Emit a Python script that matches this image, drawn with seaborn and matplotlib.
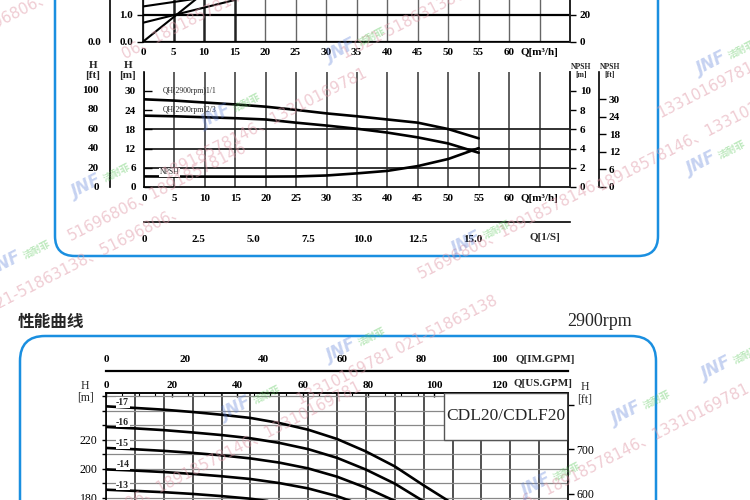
import numpy as np
import pandas as pd
import matplotlib
matplotlib.use('Agg')
import matplotlib.pyplot as plt
import seaborn as sns
from matplotlib.patches import FancyBboxPatch, Rectangle

# ---------- dados ----------
# painel superior (parcial): três retas até Q = 15 m³/h
q_topo = [0, 15]
topo_a = [1.32, 1.82]
topo_b = [0.71, 1.56]
topo_c = [0.0, 2.75]

# painel do meio: curvas QH (H em m) e NPSH (m) vs Q (m³/h)
q_qh = [0, 5, 10, 15, 20, 25, 30, 35, 40, 45, 50, 55]
qh_11 = [27.4, 27.0, 26.4, 25.8, 25.1, 24.1, 23.0, 22.1, 21.1, 20.1, 18.1, 15.2]
qh_23 = [22.3, 22.1, 21.8, 21.5, 21.1, 20.1, 19.2, 18.2, 17.0, 15.5, 13.6, 10.7]
q_npsh = [0, 10, 20, 25, 30, 35, 40, 45, 50, 55]
npsh = [1.1, 1.08, 1.08, 1.1, 1.2, 1.42, 1.68, 2.18, 2.92, 4.05]

# painel inferior: CDL20/CDLF20, H (m) por número de estágios
q_cdl = [0, 2, 4, 6, 8, 10, 12, 14, 16, 18, 20, 22, 24]
h_17 = [243.0, 241.9, 240.7, 239.1, 237.2, 235.0, 231.5, 226.9, 220.5, 211.9, 201.6, 188.5, 176.0]
h_16 = [228.8, 227.8, 226.6, 225.0, 223.2, 221.0, 217.8, 213.5, 207.5, 199.4, 189.7, 177.5]
h_15 = [214.3, 213.4, 212.3, 210.9, 209.2, 207.1, 204.2, 200.2, 194.5, 186.9, 177.8]
h_14 = [199.5, 198.7, 197.7, 196.4, 194.8, 192.9, 190.1, 186.4, 181.1, 174.0]
h_13 = [185.5, 184.7, 183.8, 182.6, 181.1, 179.3, 176.7, 173.2]
estagios = ['-17', '-16', '-15', '-14', '-13']
rotulo_h = [245.7, 232.2, 217.2, 202.8, 188.5]

# marcas d'água (posição em pixels da imagem)
marca_txt = [(-30, 40, '51696806、18918578146'),
             (125, 58, '06、18918578146、13310169781'),
             (345, 58, '1 021-51863138、51696806'),
             (165, 178, '18918578146、13310169781'),
             (70, 240, '51696806、18918578146'),
             (-10, 312, '021-51863138、51696806、'),
             (420, 278, '51696806、18918578146、'),
             (600, 190, '18918578146、13310169781'),
             (660, 118, '13310169781'),
             (300, 405, '13310169781 021-51863138'),
             (120, 512, '806、18918578146、13310169781'),
             (525, 505, '6、18918578146、13310169781')]
marca_logo = [(330, 62), (205, 128), (75, 198), (-5, 275), (455, 255), (700, 75),
              (690, 175), (225, 420), (330, 362), (615, 425), (525, 497), (705, 380)]

AZUL = '#1a8fe0'
SERIF = ['Liberation Serif', 'DejaVu Serif']

sns.set_theme(style='white')
plt.rcParams['font.family'] = ['Liberation Serif', 'Noto Sans CJK SC', 'DejaVu Sans']
plt.rcParams['axes.linewidth'] = 1.2
plt.rcParams['xtick.color'] = 'black'
plt.rcParams['ytick.color'] = 'black'

W, H = 750, 500
fig = plt.figure(figsize=(7.5, 5), dpi=100)
fig.patch.set_facecolor('white')


def eixo(x0, y0, x1, y1):
    # posição em pixels da imagem (y cresce para baixo)
    ax = fig.add_axes([x0 / W, 1 - y1 / H, (x1 - x0) / W, (y1 - y0) / H])
    ax.set_facecolor('none')
    for s in ax.spines.values():
        s.set_color('black')
    return ax


def so_espinha(ax, lado):
    for k, s in ax.spines.items():
        s.set_visible(k == lado)


tk = dict(labelsize=8, width=1.0, colors='black')

# ---------- painel superior (cortado) ----------
ax_t = eixo(143, -40, 570, 41.7)
ax_t.set_xlim(0, 70)
ax_t.set_ylim(0, (41.7 + 40) / 26.7)
ax_t.spines['top'].set_visible(False)
xt = list(range(0, 70, 5))
ax_t.set_xticks(xt)
ax_t.set_xticklabels([str(v) for v in xt[:-1]] + ['Q[m³/h]'], fontweight='bold')
ax_t.set_yticks([0, 1])
ax_t.set_yticklabels(['0.0', '1.0'], fontweight='bold')
ax_t.tick_params(axis='x', length=0, pad=4.5, **tk)
ax_t.tick_params(axis='y', length=4, pad=3, **tk)
ax_t.grid(True, axis='x', color='#666', lw=1.0)
ax_t.grid(True, axis='y', color='black', lw=1.6)
for v, gl in zip(xt, ax_t.get_xgridlines()):
    if v in (5, 10, 15):
        gl.set_color('#222')
        gl.set_linewidth(1.8)
df_topo = pd.DataFrame({'Q': q_topo * 3, 'v': topo_a + topo_b + topo_c,
                        'curva': ['a'] * 2 + ['b'] * 2 + ['c'] * 2})
sns.lineplot(data=df_topo, x='Q', y='v', units='curva', estimator=None, color='black',
             lw=1.5, ax=ax_t, legend=False)
ax_t.set_xlabel('')
ax_t.set_ylabel('')
ax_t2 = ax_t.twinx()
ax_t2.set_ylim(0, ax_t.get_ylim()[1] * 20)
ax_t2.set_yticks([0, 20])
ax_t2.set_yticklabels(['0', '20'], fontweight='bold')
ax_t2.tick_params(axis='y', length=4, pad=3, **tk)
so_espinha(ax_t2, 'right')
ax_to = eixo(110, -40, 111, 41.7)
so_espinha(ax_to, 'left')
ax_to.set_ylim(ax_t.get_ylim())
ax_to.set_xticks([])
ax_to.set_yticks([0])
ax_to.set_yticklabels(['0.0'], fontweight='bold')
ax_to.tick_params(axis='y', length=3, pad=3, **tk)

# ---------- painel do meio ----------
ax_m = eixo(144, 72, 570, 187)
ax_m.set_xlim(0, 70)
ax_m.set_ylim(0, (187 - 72) / 3.2)
ax_m.spines['top'].set_visible(False)
ax_m.set_xticks(xt)
ax_m.set_xticklabels([str(v) for v in xt[:-1]] + ['Q[m³/h]'], fontweight='bold')
ax_m.set_yticks([0, 6, 12, 18, 24, 30])
ax_m.set_yticklabels(['0', '6', '12', '18', '24', '30'], fontweight='bold')
ax_m.tick_params(axis='x', length=0, pad=5, **tk)
ax_m.tick_params(axis='y', direction='in', length=6, pad=6, **tk)
ax_m.grid(True, axis='x', color='#333', lw=1.1)
ax_m.grid(True, axis='y', color='#222', lw=1.3)
for v, gl in zip([0, 6, 12, 18, 24, 30], ax_m.get_ygridlines()):
    gl.set_visible(v in (6, 12, 18))

df_qh = pd.DataFrame({'Q': q_qh * 2, 'H': qh_11 + qh_23,
                      'curva': ['1/1'] * len(q_qh) + ['2/3'] * len(q_qh)})
sns.lineplot(data=df_qh, x='Q', y='H', units='curva', estimator=None, color='black',
             lw=1.9, ax=ax_m, legend=False, sort=False)
ax_m.set_xlabel('')
ax_m.set_ylabel('')
ax_m.text(3.0, 30, 'QH(2900rpm)1/1', fontsize=5.5, va='center', ha='left')
ax_m.text(3.0, 24, 'QH(2900rpm)2/3', fontsize=5.5, va='center', ha='left')

ax_n = ax_m.twinx()
ax_n.set_ylim(0, ax_m.get_ylim()[1] / 3)
so_espinha(ax_n, 'right')
ax_n.set_yticks([0, 2, 4, 6, 8, 10])
ax_n.set_yticklabels(['0', '2', '4', '6', '8', '10'], fontweight='bold')
ax_n.tick_params(axis='y', length=4, pad=3, **tk)
df_npsh = pd.DataFrame({'Q': q_npsh, 'N': npsh})
sns.lineplot(data=df_npsh, x='Q', y='N', color='black', lw=1.9, ax=ax_n, legend=False)
ax_n.set_ylabel('')
ax_n.text(2.6, 1.55, 'NPSH', fontsize=5.5, va='center', ha='left',
          bbox=dict(fc='white', ec='none', pad=0.3))

# eixo H [ft] externo
ax_hf = eixo(110, 72, 111, 187)
so_espinha(ax_hf, 'left')
ax_hf.set_ylim(0, ax_m.get_ylim()[1] * 3.28084)
ax_hf.set_xticks([])
ax_hf.set_yticks([0, 20, 40, 60, 80, 100])
ax_hf.set_yticklabels(['0', '20', '40', '60', '80', '100'], fontweight='bold')
ax_hf.tick_params(axis='y', direction='in', length=3, pad=8, **tk)

# eixo NPSH [ft] externo
ax_nf = eixo(598, 72, 599, 187)
so_espinha(ax_nf, 'right')
ax_nf.set_ylim(0, ax_n.get_ylim()[1] * 3.28084)
ax_nf.set_xticks([])
ax_nf.yaxis.tick_right()
ax_nf.set_yticks([0, 6, 12, 18, 24, 30])
ax_nf.set_yticklabels(['0', '6', '12', '18', '24', '30'], fontweight='bold')
ax_nf.tick_params(axis='y', length=5, pad=2, **tk)

# eixo Q [l/s]
ax_l = eixo(144, 221, 570, 222)
so_espinha(ax_l, 'bottom')
ax_l.set_xlim(0, 70 / 3.6)
ax_l.set_yticks([])
lt = [0, 2.5, 5.0, 7.5, 10.0, 12.5, 15.0]
ax_l.set_xticks(lt)
ax_l.set_xticklabels(['0', '2.5', '5.0', '7.5', '10.0', '12.5', '15.0'], fontweight='bold')
ax_l.set_xticks(np.arange(1.25, 19.0, 2.5), minor=True)
ax_l.tick_params(axis='x', which='major', direction='in', length=4, pad=9, **tk)
ax_l.tick_params(axis='x', which='minor', direction='in', length=3, width=1.0)
fig.text(545 / W, 1 - 238 / H, 'Q[1/S]', fontsize=8, fontweight='bold', ha='center', va='center')

for x, y, s in [(93, 66, 'H'), (93, 76, '[ft]'), (128, 66, 'H'), (128, 76, '[m]')]:
    fig.text(x / W, 1 - y / H, s, fontsize=8, fontweight='bold', ha='center', va='center')
for x, y, s in [(581, 67, 'NPSH'), (581, 75, '[m]'), (610, 67, 'NPSH'), (610, 75, '[ft]')]:
    fig.text(x / W, 1 - y / H, s, fontsize=5.5, fontweight='bold', ha='center', va='center')

# ---------- título da seção ----------
fig.text(18 / W, 1 - 322 / H, '性能曲线', fontsize=12, fontweight='bold', ha='left', va='center',
         family=['Noto Sans CJK SC', 'DejaVu Sans'])
fig.text(632 / W, 1 - 322 / H, '2900rpm', fontsize=13, ha='right', va='center', family=SERIF)

# ---------- painel inferior ----------
ax_b = eixo(106, 393, 568, 541.2)
ax_b.set_xlim(0, 32)
ax_b.set_ylim(150, 252.2)
ax_b.set_xticks(range(0, 33, 2))
ax_b.set_xticklabels([])
ax_b.tick_params(axis='x', length=0)
yb = list(range(150, 251, 10))
ax_b.set_yticks(yb)
ax_b.set_yticklabels([str(v) if v in (180, 200, 220) else '' for v in yb], fontsize=8.5)
ax_b.tick_params(axis='y', length=3, pad=3, labelsize=8.5, width=1.0)
ax_b.grid(True, axis='x', color='#333', lw=1.2)
ax_b.grid(True, axis='y', color='#888', lw=0.9)

df_cdl = pd.concat([pd.DataFrame({'Q': q_cdl[:len(h)], 'H': h, 'estagio': e})
                    for e, h in zip(estagios, [h_17, h_16, h_15, h_14, h_13])])
sns.lineplot(data=df_cdl, x='Q', y='H', units='estagio', estimator=None, color='black',
             lw=1.9, ax=ax_b, legend=False, sort=False)
ax_b.set_xlabel('')
ax_b.set_ylabel('')
for e, hy in zip(estagios, rotulo_h):
    ax_b.text(1.15, hy, e, fontsize=7, fontweight='bold', ha='center', va='center',
              bbox=dict(fc='white', ec='none', pad=0.4))

ax_b.add_patch(Rectangle((23.4, 220), 32 - 23.4, 252.2 - 220, facecolor='white',
                         edgecolor='#555', lw=1.0, zorder=3))
ax_b.text((23.4 + 32) / 2, 236, 'CDL20/CDLF20', fontsize=12.5, ha='center', va='center', zorder=4)

ax_bf = ax_b.twinx()
so_espinha(ax_bf, 'right')
ax_bf.set_ylim(150 * 3.28084, 252.2 * 3.28084)
ax_bf.set_yticks([600, 700, 800])
ax_bf.set_yticklabels(['600', '700', ''])
ax_bf.tick_params(axis='y', length=4, pad=2, labelsize=8.5, width=1.0)

ax_us = ax_b.secondary_xaxis('top', functions=(lambda q: q * 4.40287, lambda g: g / 4.40287))
ax_us.set_xticks([0, 20, 40, 60, 80, 100, 120])
ax_us.set_xticklabels(['0', '20', '40', '60', '80', '100', '120'], fontweight='bold')
ax_us.set_xticks(np.arange(5, 141, 5), minor=True)
ax_us.tick_params(axis='x', which='major', direction='in', length=3, pad=2, labelsize=8, width=1.0)
ax_us.tick_params(axis='x', which='minor', direction='in', length=2, width=0.8)
fig.text(543 / W, 1 - 384 / H, 'Q[US.GPM]', fontsize=8, fontweight='bold', ha='center', va='center')

ax_im = eixo(106, 370, 568, 371)
so_espinha(ax_im, 'bottom')
ax_im.spines['bottom'].set_linewidth(1.6)
ax_im.set_xlim(0, 32 * 3.66614)
ax_im.set_yticks([])
ax_im.set_xticks([0, 20, 40, 60, 80, 100])
ax_im.set_xticklabels(['0', '20', '40', '60', '80', '100'], fontweight='bold')
ax_im.set_xticks(np.arange(5, 116, 5), minor=True)
ax_im.tick_params(axis='x', which='both', direction='in', length=3, width=1.0,
                  labeltop=True, labelbottom=False, pad=4, labelsize=8)
fig.text(545 / W, 1 - 360 / H, 'Q[IM.GPM]', fontsize=8, fontweight='bold', ha='center', va='center')

for x, y, s in [(85, 386, 'H'), (85, 398, '[m]'), (585, 387, 'H'), (585, 400, '[ft]')]:
    fig.text(x / W, 1 - y / H, s, fontsize=8.5, ha='center', va='center')

# ---------- molduras azuis ----------
moldura_sup = FancyBboxPatch((0.55, 2.44), 6.03, 3.5, boxstyle='round,pad=0,rounding_size=0.2',
                             transform=fig.dpi_scale_trans, fill=False, edgecolor=AZUL, lw=1.8)
moldura_inf = FancyBboxPatch((0.20, -1.0), 6.36, 2.64, boxstyle='round,pad=0,rounding_size=0.25',
                             transform=fig.dpi_scale_trans, fill=False, edgecolor=AZUL, lw=1.8)
fig.add_artist(moldura_sup)
fig.add_artist(moldura_inf)

# ---------- marcas d'água ----------
for x, y, s in marca_txt:
    fig.text(x / W, 1 - y / H, s, fontsize=11, color='#e09aa8', alpha=0.5, rotation=27,
             rotation_mode='anchor', ha='left', va='baseline', family=['DejaVu Sans', 'Noto Sans CJK SC'],
             zorder=10)
for x, y in marca_logo:
    fig.text(x / W, 1 - y / H, 'JNF', fontsize=12, color='#5a7fd8', alpha=0.35, rotation=27,
             rotation_mode='anchor', ha='left', va='baseline', fontweight='bold', style='italic',
             family='DejaVu Sans', zorder=10)
    fig.text((x + 30) / W, 1 - (y - 16) / H, '洁耐菲', fontsize=7, color='#5cc85c', alpha=0.4,
             rotation=27, rotation_mode='anchor', ha='left', va='baseline', fontweight='bold',
             family=['Noto Sans CJK SC'], zorder=10)

fig.savefig('out.png', dpi=100, facecolor='white')
